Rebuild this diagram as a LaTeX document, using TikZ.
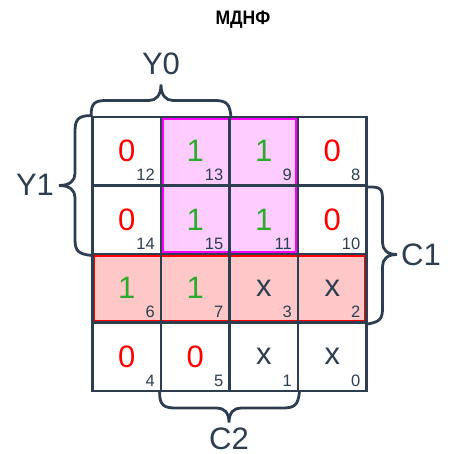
\documentclass[tikz,border=0pt]{standalone}
\usepackage{fontspec}
\setmainfont{Liberation Sans}
\usetikzlibrary{fit,backgrounds}
\definecolor{gridc}{RGB}{44,62,80}
\definecolor{zero}{RGB}{255,0,0}
\definecolor{one}{RGB}{44,170,44}
\definecolor{pinkfill}{RGB}{255,204,255}
\definecolor{mag}{RGB}{255,0,255}
\definecolor{redfill}{RGB}{255,200,200}
\tikzset{
  cell/.style={draw=gridc, line width=2.8pt, minimum size=68.5pt, inner sep=0pt,
    font=\fontsize{31}{31}\selectfont},
  sub/.style={anchor=base east, inner sep=0pt, text=gridc, font=\fontsize{16.5}{16.5}\selectfont},
  brace/.style={draw=gridc, line width=2.8pt, line cap=round},
  lbl/.style={text=gridc, inner sep=0pt, font=\fontsize{31}{31}\selectfont},
  grpM/.style={draw=mag, fill=pinkfill, line width=2.8pt, inner sep=-2.8pt},
  grpR/.style={draw=zero, fill=redfill, line width=3pt, inner sep=-2.6pt},
}
\newcommand{\kcell}[5]{% name, x, y, value, index
  \node[cell] (#1) at (#2,#3) {#4};
  \node[sub] (s#1) at ([xshift=-7.5pt,yshift=6pt]#1.south east) {#5};
}
\begin{document}
\begin{tikzpicture}[x=1pt,y=-1pt]
\useasboundingbox (0,0) rectangle (450,454);
\node[font=\bfseries\fontsize{19.5}{19.5}\selectfont, inner sep=0pt, xscale=0.9, transform shape] (title) at (243,19.5) {МДНФ};
% cells
\def\cA{126.75}\def\cB{195.25}\def\cC{263.75}\def\cD{332.25}
\def\rA{151.25}\def\rB{219.75}\def\rC{288.25}\def\rD{356.75}
\kcell{c12}{\cA}{\rA}{\textcolor{zero}{0}}{12}
\kcell{c13}{\cB}{\rA}{\textcolor{one}{1}}{13}
\kcell{c9}{\cC}{\rA}{\textcolor{one}{1}}{9}
\kcell{c8}{\cD}{\rA}{\textcolor{zero}{0}}{8}
\kcell{c14}{\cA}{\rB}{\textcolor{zero}{0}}{14}
\kcell{c15}{\cB}{\rB}{\textcolor{one}{1}}{15}
\kcell{c11}{\cC}{\rB}{\textcolor{one}{1}}{11}
\kcell{c10}{\cD}{\rB}{\textcolor{zero}{0}}{10}
\kcell{c6}{\cA}{\rC}{\textcolor{one}{1}}{6}
\kcell{c7}{\cB}{\rC}{\textcolor{one}{1}}{7}
\kcell{c3}{\cC}{\rC}{\textcolor{gridc}{x}}{3}
\kcell{c2}{\cD}{\rC}{\textcolor{gridc}{x}}{2}
\kcell{c4}{\cA}{\rD}{\textcolor{zero}{0}}{4}
\kcell{c5}{\cB}{\rD}{\textcolor{zero}{0}}{5}
\kcell{c1}{\cC}{\rD}{\textcolor{gridc}{x}}{1}
\kcell{c0}{\cD}{\rD}{\textcolor{gridc}{x}}{0}
% groups
\begin{scope}[on background layer]
\node[grpM, fit=(c13)(c11)] (gm) {};
\node[grpR, fit=(c6)(c2)] (gr) {};
\end{scope}
% braces
\draw[brace] (c12.north west) .. controls ++(0,-13) and (95,100.5) .. (107,100.5) -- (149,100.5)
  .. controls (156,100.5) and (161,95.5) .. (161,84.5)
  .. controls (161,95.5) and (166,100.5) .. (173,100.5) -- (215,100.5)
  .. controls (227,100.5) and (229.5,104.5) .. (c13.north east);
\draw[brace] (c12.north west) .. controls ++(-13,0) and (75,119.5) .. (75,131.5) -- (75,173.5)
  .. controls (75,180.5) and (70,185.5) .. (59,185.5)
  .. controls (70,185.5) and (75,190.5) .. (75,197.5) -- (75,239.5)
  .. controls (75,251.5) and (79,254) .. (c14.south west);
\draw[brace] (c8.south east) .. controls ++(13,0) and (382.5,188.5) .. (382.5,200.5) -- (382.5,242.5)
  .. controls (382.5,249.5) and (387,254.5) .. (397,254.5)
  .. controls (387,254.5) and (382.5,259.5) .. (382.5,266.5) -- (382.5,308.5)
  .. controls (382.5,319.5) and (379,322) .. (c2.south east);
\draw[brace] (c5.south west) .. controls ++(0,13) and (164,408) .. (176,408) -- (217,408)
  .. controls (224,408) and (229,412.5) .. (229,422.5)
  .. controls (229,412.5) and (234,408) .. (241,408) -- (283,408)
  .. controls (295,408) and (298,404.5) .. (c1.south east);
% labels
\node[lbl] (y0) at (161,64) {Y0};
\node[lbl] (y1) at (35,185) {Y1};
\node[lbl] (k1) at (421,255) {C1};
\node[lbl] (k2) at (229,438.5) {C2};
\end{tikzpicture}
\end{document}
